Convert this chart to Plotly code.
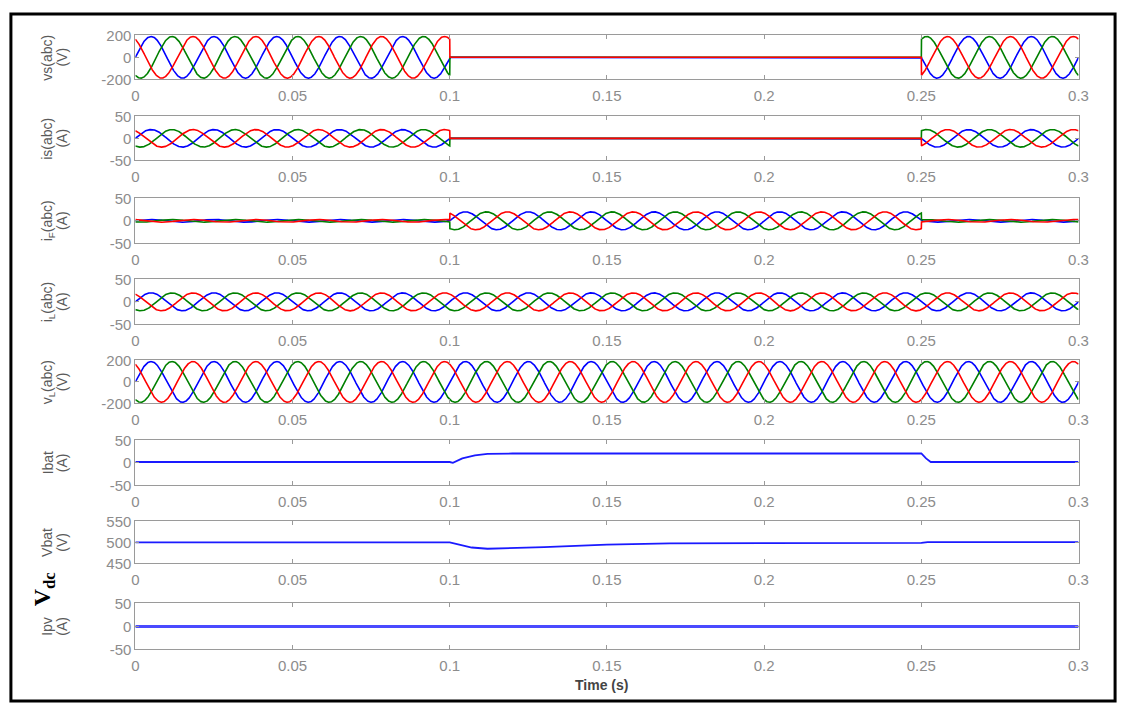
import numpy as np
import plotly.graph_objects as go
from plotly.subplots import make_subplots

# ---------------- data ----------------
FREQ_HZ = 50
T_END = 0.3
SEGMENT_EDGES = [0.0, 0.1, 0.25, 0.3]          # islanding interval 0.1-0.25 s

VS_AMP = [190, 0, 190]        # grid voltage amplitude per segment (V)
IS_AMP = [20, 0, 20]          # grid current amplitude per segment (A)
IF_AMP = [3, 20, 3]           # VSC current amplitude per segment (A)
IL_AMP = [20, 20, 20]         # load current amplitude per segment (A)
VL_AMP = [190, 190, 190]      # load voltage amplitude per segment (V)

IBAT_T = [0, 0.1, 0.101, 0.104, 0.108, 0.112, 0.12, 0.15, 0.2, 0.249, 0.25, 0.2515, 0.253, 0.3]
IBAT_V = [2, 2, 0, 10, 17, 20, 21, 21, 20.5, 21, 21, 10, 2, 2]

VBAT_T = [0, 0.1, 0.103, 0.107, 0.112, 0.12, 0.13, 0.14, 0.15, 0.17, 0.2, 0.25, 0.252, 0.3]
VBAT_V = [500, 500, 495, 488, 485, 486, 489, 492, 495, 498, 499, 499, 501, 501]

IPV_T = [0, 0.3]
IPV_V = [0, 0]

PANEL_NAMES = ["vs(abc)", "is(abc)", "i<sub>F</sub>(abc)", "i<sub>L</sub>(abc)",
               "v<sub>L</sub>(abc)", "Ibat", "Vbat", "Ipv"]
PANEL_UNITS = ["(V)", "(A)", "(A)", "(A)", "(V)", "(A)", "(V)", "(A)"]
Y_TICKS = [[-200, 0, 200], [-50, 0, 50], [-50, 0, 50], [-50, 0, 50],
           [-200, 0, 200], [-50, 0, 50], [450, 500, 550], [-50, 0, 50]]
X_TICKS = [0, 0.05, 0.1, 0.15, 0.2, 0.25, 0.3]
X_TICK_TEXT = ["0", "0.05", "0.1", "0.15", "0.2", "0.25", "0.3"]

PHASE_COLORS = {"blue": "#0000ff", "green": "#008000", "red": "#ff0000"}
PHASE_SHIFTS = {"blue": 0.0, "green": -2 * np.pi / 3, "red": 2 * np.pi / 3}
DRAW_ORDER = ["blue", "green", "red"]

# ---------------- helpers ----------------
t = np.linspace(0, T_END, 6001)
seg_idx = np.clip(np.searchsorted(SEGMENT_EDGES, t, side="right") - 1, 0, len(SEGMENT_EDGES) - 2)


def three_phase(amps, phase):
    a = np.asarray(amps, dtype=float)[seg_idx]
    return a * np.sin(2 * np.pi * FREQ_HZ * t + phase)


W, H = 1131, 713


def px_x(x):
    return x / W


def px_y(y):
    return 1 - y / H


panels_px = [(27, 72), (110, 155), (194, 240), (277, 323),
             (360, 404), (442, 488), (525, 568), (609, 656)]
x_left, x_right = 133, 1088

fig = make_subplots(rows=8, cols=1)

three_phase_sets = [VS_AMP, IS_AMP, IF_AMP, IL_AMP, VL_AMP]
for i, amps in enumerate(three_phase_sets):
    for ph in DRAW_ORDER:
        fig.add_trace(go.Scatter(x=t, y=three_phase(amps, PHASE_SHIFTS[ph]), mode="lines",
                                 line=dict(color=PHASE_COLORS[ph], width=1.6),
                                 showlegend=False, hoverinfo="skip"), row=i + 1, col=1)

dc_sets = [(IBAT_T, IBAT_V, 1.8), (VBAT_T, VBAT_V, 1.8), (IPV_T, IPV_V, 3)]
for j, (tx, ty, w) in enumerate(dc_sets):
    fig.add_trace(go.Scatter(x=tx, y=ty, mode="lines",
                             line=dict(color="#1a1aff" if j < 2 else "#4a4aff", width=w),
                             showlegend=False, hoverinfo="skip"), row=6 + j, col=1)

axis_color = "#9a9a9a"
tick_font = dict(family="Liberation Sans, Arial", size=15, color="#8c8c8c")
label_font = dict(family="Liberation Sans, Arial", size=14, color="#5a5a5a")
annotations = []
for i, (top, bot) in enumerate(panels_px):
    n = "" if i == 0 else str(i + 1)
    fig.layout["xaxis" + n].update(
        domain=[px_x(x_left), px_x(x_right)], range=[0, T_END],
        tickvals=X_TICKS, ticktext=X_TICK_TEXT, ticks="inside", ticklen=4,
        tickcolor=axis_color, showline=True, linecolor=axis_color, linewidth=1,
        mirror="ticks", showgrid=False, zeroline=False, tickfont=tick_font,
        ticklabelstandoff=3)
    yt = Y_TICKS[i]
    fig.layout["yaxis" + n].update(
        domain=[px_y(bot), px_y(top)], range=[yt[0], yt[-1]],
        tickvals=yt, ticktext=[str(v) for v in yt], ticks="inside", ticklen=4,
        tickcolor=axis_color, showline=True, linecolor=axis_color, linewidth=1,
        mirror="ticks", showgrid=False, zeroline=False, tickfont=tick_font)
    yc = px_y((top + bot) / 2)
    annotations.append(dict(
        text=PANEL_NAMES[i], xref="paper", yref="paper",
        x=px_x(44), y=yc, xanchor="center", yanchor="middle",
        textangle=-90, showarrow=False, font=label_font))
    annotations.append(dict(
        text=PANEL_UNITS[i], xref="paper", yref="paper",
        x=px_x(59), y=yc, xanchor="center", yanchor="middle",
        textangle=-90, showarrow=False, font=label_font))

annotations.append(dict(
    text="<b>V<sub>dc</sub></b>", xref="paper", yref="paper",
    x=px_x(40), y=px_y(594), xanchor="center", yanchor="middle",
    textangle=-90, showarrow=False,
    font=dict(family="Liberation Serif, Times New Roman", size=24, color="#000000")))
annotations.append(dict(
    text="<b>Time (s)</b>", xref="paper", yref="paper",
    x=px_x(605), y=px_y(692), xanchor="center", yanchor="middle", showarrow=False,
    font=dict(family="Liberation Sans, Arial", size=14, color="#444444")))

fig.update_layout(
    width=W, height=H, margin=dict(l=0, r=0, t=0, b=0),
    paper_bgcolor="white", plot_bgcolor="white",
    annotations=annotations,
    shapes=[dict(type="rect", xref="paper", yref="paper",
                 x0=px_x(7), x1=px_x(1125), y0=px_y(709), y1=px_y(5),
                 line=dict(color="black", width=3))])

fig.write_html("out.html", config={"displayModeBar": False},
               post_script="document.body.style.margin='0';document.body.style.overflow='hidden';")
